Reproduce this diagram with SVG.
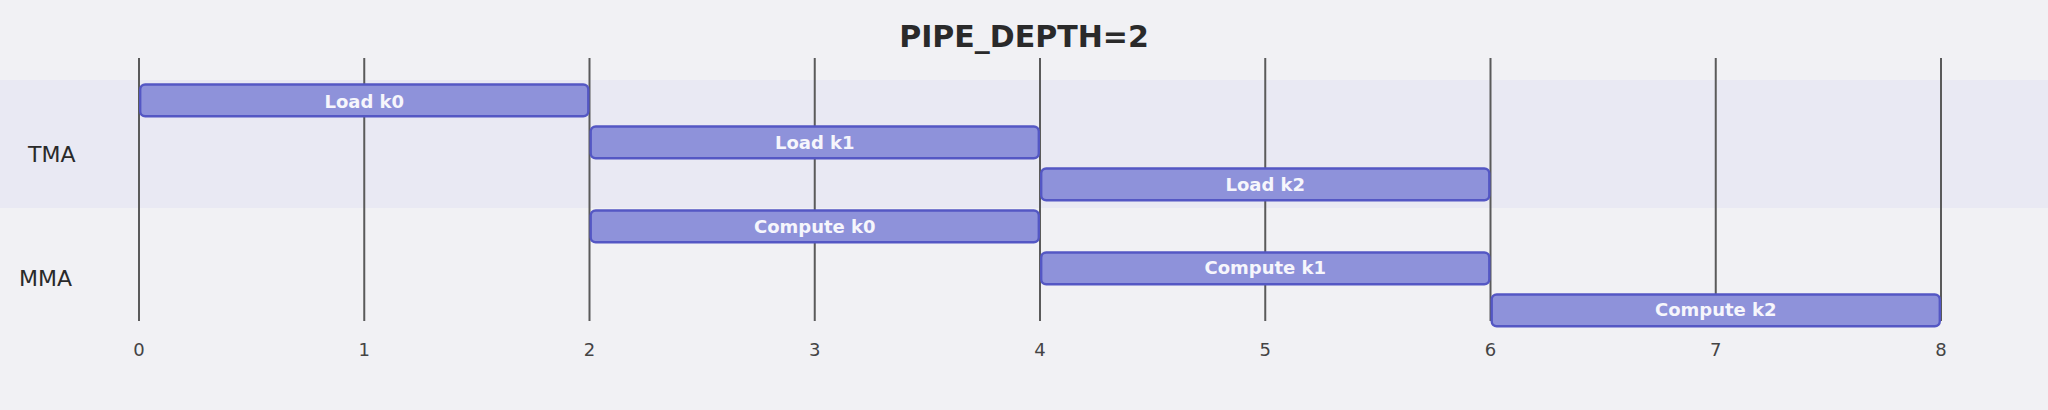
<svg xmlns="http://www.w3.org/2000/svg" width="2048" height="410" viewBox="0 0 2048 410">
  <style>
    .bg { fill: #f1f1f4; }
    .band { fill: #e9e9f3; }
    .grid { stroke: #5a5a5a; stroke-width: 2; }
    .bar { fill: #8e92da; stroke: #5457c4; stroke-width: 2.4; }
    .barlabel { font-family: "DejaVu Sans", sans-serif; font-weight: bold; font-size: 18px; fill: #f6f6fc; text-anchor: middle; }
    .tick { font-family: "DejaVu Sans", sans-serif; font-size: 18px; fill: #444444; text-anchor: middle; }
    .row { font-family: "DejaVu Sans", sans-serif; font-size: 22px; fill: #2a2a2a; }
    .title { font-family: "DejaVu Sans", sans-serif; font-weight: bold; font-size: 30px; fill: #2a2a2a; text-anchor: middle; }
  </style>
  <rect class="bg" x="0" y="0" width="2048" height="410"/>
  <rect class="band" x="0" y="80" width="2048" height="128"/>
  <text class="title" x="1024" y="46.5">PIPE_DEPTH=2</text>
  <g id="row-labels">
    <text class="row" x="28" y="162.3">TMA</text>
    <text class="row" x="19" y="286">MMA</text>
  </g>
  <g id="grid">
    <line class="grid" x1="139" y1="58" x2="139" y2="321"/>
    <line class="grid" x1="364.25" y1="58" x2="364.25" y2="321"/>
    <line class="grid" x1="589.5" y1="58" x2="589.5" y2="321"/>
    <line class="grid" x1="814.75" y1="58" x2="814.75" y2="321"/>
    <line class="grid" x1="1040" y1="58" x2="1040" y2="321"/>
    <line class="grid" x1="1265.25" y1="58" x2="1265.25" y2="321"/>
    <line class="grid" x1="1490.5" y1="58" x2="1490.5" y2="321"/>
    <line class="grid" x1="1715.75" y1="58" x2="1715.75" y2="321"/>
    <line class="grid" x1="1941" y1="58" x2="1941" y2="321"/>
  </g>
  <g id="ticks">
    <text class="tick" x="139" y="355.5">0</text>
    <text class="tick" x="364.25" y="355.5">1</text>
    <text class="tick" x="589.5" y="355.5">2</text>
    <text class="tick" x="814.75" y="355.5">3</text>
    <text class="tick" x="1040" y="355.5">4</text>
    <text class="tick" x="1265.25" y="355.5">5</text>
    <text class="tick" x="1490.5" y="355.5">6</text>
    <text class="tick" x="1715.75" y="355.5">7</text>
    <text class="tick" x="1941" y="355.5">8</text>
  </g>
  <g id="load-k0">
    <rect class="bar" x="140.2" y="84.5" width="448.1" height="31.8" rx="5"/>
    <text class="barlabel" x="364.25" y="107.5">Load k0</text>
  </g>
  <g id="load-k1">
    <rect class="bar" x="590.7" y="126.5" width="448.1" height="31.8" rx="5"/>
    <text class="barlabel" x="814.75" y="149.2">Load k1</text>
  </g>
  <g id="load-k2">
    <rect class="bar" x="1041.2" y="168.5" width="448.1" height="31.8" rx="5"/>
    <text class="barlabel" x="1265.25" y="190.9">Load k2</text>
  </g>
  <g id="compute-k0">
    <rect class="bar" x="590.7" y="210.5" width="448.1" height="31.8" rx="5"/>
    <text class="barlabel" x="814.75" y="232.6">Compute k0</text>
  </g>
  <g id="compute-k1">
    <rect class="bar" x="1041.2" y="252.5" width="448.1" height="31.8" rx="5"/>
    <text class="barlabel" x="1265.25" y="274.3">Compute k1</text>
  </g>
  <g id="compute-k2">
    <rect class="bar" x="1491.7" y="294.5" width="448.1" height="31.8" rx="5"/>
    <text class="barlabel" x="1715.75" y="316">Compute k2</text>
  </g>
</svg>
